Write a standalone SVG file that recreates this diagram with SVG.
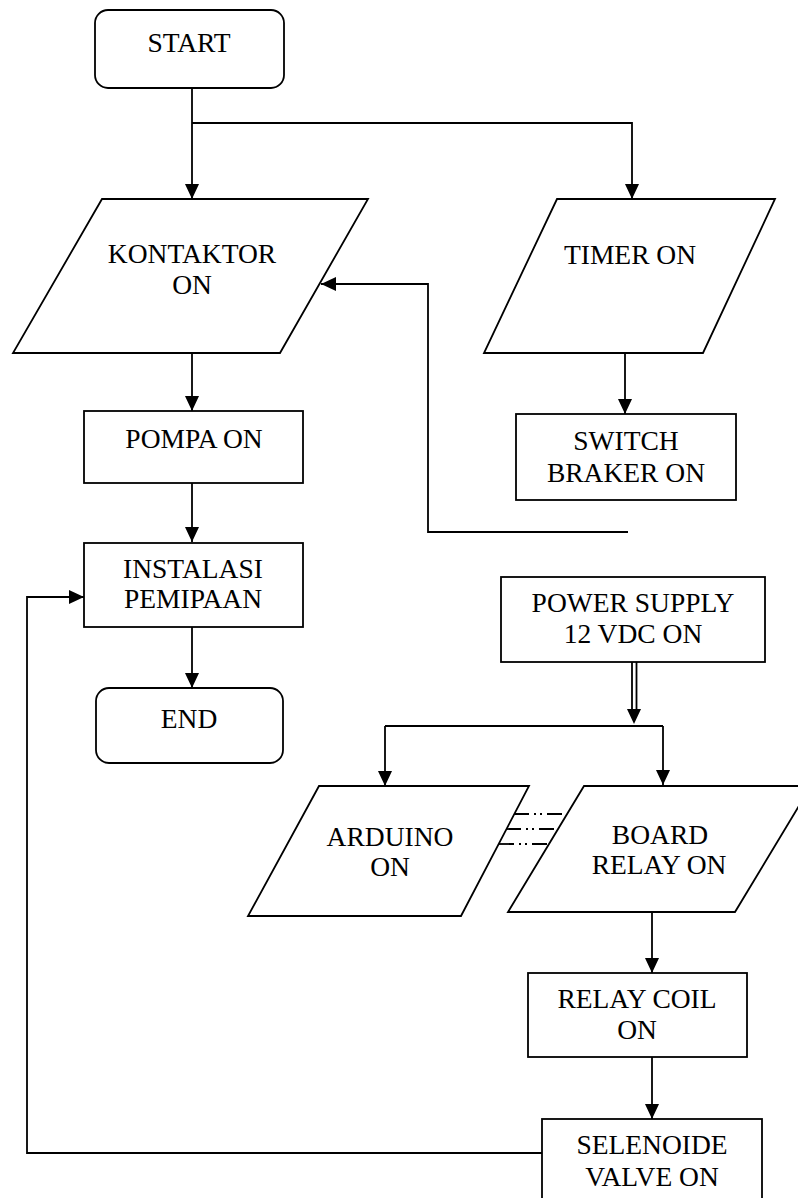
<svg xmlns="http://www.w3.org/2000/svg" width="798" height="1198" viewBox="0 0 798 1198">
<defs>
<style>
.shape{fill:#fff;stroke:#000;stroke-width:1.8}
.con{fill:none;stroke:#000;stroke-width:1.8}
.arr{marker-end:url(#ah)}
.dash{fill:none;stroke:#000;stroke-width:1.8;stroke-dasharray:15 5 2 4 2 5}
text{font-family:"Liberation Serif","Times New Roman",serif;font-size:27.5px;fill:#000;text-anchor:middle}
</style>
<marker id="ah" markerUnits="userSpaceOnUse" markerWidth="15" markerHeight="14" refX="15" refY="7" orient="auto" viewBox="0 0 15 14">
<path d="M0,0 L15,7 L0,14 z" fill="#000"/>
</marker>
</defs>
<rect width="798" height="1198" fill="#fff"/>

<g id="connectors">
<path class="con arr" d="M192,88 V199"/>
<path class="con arr" d="M192,123 H632 V199"/>
<path class="con arr" d="M192,353 V411"/>
<path class="con arr" d="M192,483 V542"/>
<path class="con arr" d="M192,627 V688"/>
<path class="con arr" d="M625,353 V414"/>
<path class="con arr" d="M628,532 H428 V284 H321"/>
<path class="con" d="M632,662 V712 M636.5,662 V712"/>
<path d="M627,709 L641,709 L634,724 z" fill="#000"/>
<path class="con" d="M385,726 H663"/>
<path class="con arr" d="M385,726 V786"/>
<path class="con arr" d="M663,726 V785"/>
<path class="dash" d="M514,814 H567"/>
<path class="dash" d="M506,829 H558"/>
<path class="dash" d="M499,844 H549"/>
<path class="con arr" d="M652,912 V973"/>
<path class="con arr" d="M652,1057 V1119"/>
<path class="con arr" d="M542,1153 H27 V597 H84"/>
</g>

<g id="start">
<rect class="shape" x="95" y="10" width="189" height="78" rx="13"/>
<text x="189" y="52">START</text>
</g>

<g id="kontaktor">
<polygon class="shape" points="102,199 368,199 280,353 13,353"/>
<text x="192" y="263">KONTAKTOR</text>
<text x="192" y="294">ON</text>
</g>

<g id="timer">
<polygon class="shape" points="557,199 775,199 703,353 484,353"/>
<text x="630" y="264">TIMER ON</text>
</g>

<g id="switch">
<rect class="shape" x="516" y="414" width="220" height="86"/>
<text x="626" y="450">SWITCH</text>
<text x="626" y="482">BRAKER ON</text>
</g>

<g id="pompa">
<rect class="shape" x="84" y="411" width="219" height="72"/>
<text x="194" y="448">POMPA ON</text>
</g>

<g id="instalasi">
<rect class="shape" x="84" y="543" width="219" height="84"/>
<text x="193" y="578">INSTALASI</text>
<text x="193" y="608">PEMIPAAN</text>
</g>

<g id="end">
<rect class="shape" x="96" y="688" width="187" height="75" rx="13"/>
<text x="189" y="728">END</text>
</g>

<g id="powersupply">
<rect class="shape" x="501" y="577" width="264" height="85"/>
<text x="633" y="612">POWER SUPPLY</text>
<text x="633" y="643">12 VDC ON</text>
</g>

<g id="arduino">
<polygon class="shape" points="319,786 529,786 461,916 248,916"/>
<text x="390" y="846">ARDUINO</text>
<text x="390" y="876">ON</text>
</g>

<g id="boardrelay">
<polygon class="shape" points="584,786 811,786 735,912 508,912"/>
<text x="660" y="844">BOARD</text>
<text x="659" y="874">RELAY ON</text>
</g>

<g id="relaycoil">
<rect class="shape" x="528" y="973" width="219" height="84"/>
<text x="637" y="1008">RELAY COIL</text>
<text x="637" y="1039">ON</text>
</g>

<g id="selenoide">
<rect class="shape" x="542" y="1119" width="220" height="100"/>
<text x="652" y="1154">SELENOIDE</text>
<text x="652" y="1186">VALVE ON</text>
</g>
</svg>
